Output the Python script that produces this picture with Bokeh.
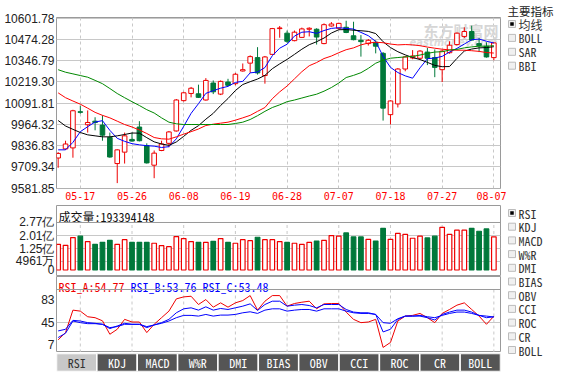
from bokeh.plotting import figure
from bokeh.layouts import row, column
from bokeh.models import Range1d, FixedTicker, Span, Label, ColumnDataSource, FactorRange
from bokeh.embed import file_html
from bokeh.resources import INLINE
from bokeh.core.properties import value

# ---------------- data ----------------
title_text = "深证成指[399001] 2017-08-07 15:26"
dates = ["05-12", "05-15", "05-16", "05-17", "05-18", "05-19", "05-22", "05-23", "05-24", "05-25",
         "05-26", "05-31", "06-01", "06-02", "06-05", "06-06", "06-07", "06-08", "06-09", "06-12",
         "06-13", "06-14", "06-15", "06-16", "06-19", "06-20", "06-21", "06-22", "06-23", "06-26",
         "06-27", "06-28", "06-29", "06-30", "07-03", "07-04", "07-05", "07-06", "07-07", "07-10",
         "07-11", "07-12", "07-13", "07-14", "07-17", "07-18", "07-19", "07-20", "07-21", "07-24",
         "07-25", "07-26", "07-27", "07-28", "07-31", "08-01", "08-02", "08-03", "08-04", "08-07"]
opens = [9761.9, 9816.7, 9822.6, 10039.8, 9961.5, 9983.0, 9959.6, 9885.2, 9728.6, 9797.1,
         9873.4, 9947.8, 9836.3, 9718.8, 9806.9, 9850.0, 9924.3, 10106.3, 10149.4, 10147.4,
         10110.2, 10212.0, 10145.5, 10217.9, 10208.1, 10284.4, 10331.4, 10364.6, 10257.0, 10384.2,
         10538.8, 10511.4, 10466.4, 10486.0, 10534.9, 10534.9, 10448.8, 10554.4, 10540.8, 10546.6,
         10495.8, 10468.4, 10448.8, 10456.6, 10390.1, 10022.2, 10086.7, 10296.2, 10362.7, 10360.7,
         10397.9, 10364.6, 10292.2, 10394.0, 10442.9, 10491.8, 10521.2, 10448.8, 10433.1, 10364.6]
highs = [9797.1, 9865.6, 10051.5, 10077.0, 10047.6, 10006.5, 10018.3, 9914.5, 9814.7, 9914.5,
         9914.5, 9983.0, 9850.0, 9806.9, 9865.6, 9924.3, 10116.1, 10159.2, 10188.5, 10202.2,
         10241.4, 10227.6, 10227.6, 10237.4, 10272.7, 10329.4, 10378.3, 10427.3, 10374.4, 10542.7,
         10554.4, 10527.1, 10527.1, 10544.7, 10546.6, 10540.8, 10570.1, 10578.0, 10574.0, 10585.8,
         10579.9, 10499.7, 10476.2, 10468.4, 10398.0, 10108.3, 10302.0, 10374.4, 10409.7, 10409.7,
         10423.4, 10413.6, 10409.7, 10462.5, 10515.3, 10546.6, 10556.3, 10482.1, 10456.6, 10456.6]
lows = [9703.2, 9810.8, 9763.8, 10028.0, 9914.5, 9928.2, 9865.6, 9763.8, 9611.2, 9728.6,
        9859.7, 9861.7, 9728.6, 9640.6, 9803.0, 9826.5, 9920.4, 10100.4, 10125.9, 10122.0,
        10106.3, 10145.5, 10139.6, 10194.4, 10198.3, 10280.5, 10272.7, 10262.9, 10208.1, 10380.3,
        10484.0, 10452.7, 10462.5, 10482.1, 10491.8, 10443.0, 10444.9, 10550.6, 10534.9, 10511.4,
        10468.4, 10370.5, 10437.1, 10390.1, 9986.5, 9963.5, 10065.2, 10282.5, 10354.9, 10354.9,
        10319.6, 10247.2, 10217.9, 10388.2, 10437.1, 10482.1, 10466.4, 10397.9, 10364.6, 10349.0]
closes = [9789.3, 9846.0, 10045.6, 10035.9, 9975.2, 9975.0, 9898.9, 9767.8, 9810.8, 9895.0,
          9863.7, 9865.6, 9732.5, 9791.2, 9846.0, 9918.4, 10110.2, 10153.3, 10180.7, 10125.9,
          10227.6, 10159.2, 10221.8, 10198.3, 10264.8, 10292.2, 10370.5, 10272.7, 10368.6, 10538.8,
          10542.7, 10462.5, 10517.3, 10536.9, 10540.8, 10488.0, 10562.3, 10566.2, 10570.1, 10515.3,
          10472.3, 10460.5, 10468.4, 10433.1, 10061.3, 10104.4, 10296.2, 10368.6, 10374.4, 10403.8,
          10360.7, 10305.9, 10403.8, 10439.0, 10511.4, 10521.2, 10470.3, 10437.1, 10368.6, 10452.7]
ma5 = [9811, 9811, 9856, 9920, 9950, 9978, 9986, 9928, 9880, 9862,
       9848, 9841, 9836, 9833, 9825, 9830, 9877, 9952, 10030, 10088,
       10150, 10166, 10181, 10192, 10216, 10222, 10273, 10278, 10305, 10376,
       10421, 10445, 10494, 10517, 10520, 10510, 10527, 10540, 10544, 10540,
       10536, 10516, 10496, 10462, 10372, 10306, 10275, 10255, 10241, 10303,
       10358, 10362, 10372, 10398, 10420, 10446, 10472, 10476, 10463, 10452]
ma10 = [9987, 9954, 9934, 9915, 9901, 9895, 9889, 9889, 9895, 9903,
        9912, 9911, 9884, 9859, 9846, 9838, 9858, 9892, 9928, 9956,
        9995, 10030, 10077, 10119, 10167, 10203, 10220, 10236, 10258, 10298,
        10327, 10354, 10384, 10415, 10442, 10460, 10482, 10512, 10532, 10533,
        10529, 10526, 10522, 10509, 10460, 10425, 10400, 10381, 10365, 10353,
        10336, 10318, 10310, 10311, 10360, 10404, 10416, 10423, 10425, 10430]
ma20 = [10153, 10124, 10104, 10085, 10061, 10036, 10018, 10003, 9983, 9963,
        9948, 9930, 9909, 9885, 9877, 9875, 9889, 9905, 9920, 9936,
        9957, 9965, 9971, 9977, 9989, 10003, 10018, 10042, 10065, 10118,
        10159, 10194, 10237, 10280, 10316, 10335, 10359, 10374, 10394, 10412,
        10423, 10441, 10452, 10457, 10454, 10446, 10441, 10443, 10441, 10436,
        10428, 10421, 10415, 10411, 10409, 10409, 10406, 10402, 10395, 10392]
ma30 = [10292, 10277, 10267, 10257, 10247, 10228, 10208, 10179, 10149, 10124,
        10100, 10077, 10052, 10032, 10003, 9977, 9967, 9963, 9963, 9963,
        9963, 9963, 9963, 9963, 9969, 9977, 9993, 10016, 10042, 10065,
        10081, 10100, 10110, 10122, 10134, 10145, 10163, 10185, 10212, 10245,
        10258, 10274, 10300, 10331, 10349, 10361, 10365, 10369, 10372, 10380,
        10390, 10398, 10400, 10410, 10414, 10423, 10429, 10433, 10433, 10436]
volumes = [150e6, 144e6, 189e6, 197e6, 165.5e6, 150e6, 161.6e6, 173e6, 150e6, 177e6,
           161.6e6, 161.6e6, 161.6e6, 156e6, 142e6, 136e6, 195e6, 183e6, 165.5e6, 161.6e6,
           161.6e6, 167.4e6, 183e6, 161.6e6, 156e6, 177e6, 171e6, 191e6, 177e6, 177e6,
           165.5e6, 161.6e6, 156e6, 150e6, 161.6e6, 169e6, 173e6, 200.5e6, 197e6, 216e6,
           193e6, 193e6, 179e6, 169e6, 243e6, 179e6, 214e6, 208e6, 185e6, 197e6,
           187e6, 197e6, 249e6, 208e6, 232e6, 232e6, 243e6, 226e6, 239.5e6, 193394148]
rsi_a = [14.8, 27.1, 65.1, 63.4, 53.9, 52.3, 47.0, 24.3, 32.7, 49.5,
         45.0, 45.0, 27.1, 41.1, 52.3, 63.4, 84.1, 87.5, 88.6, 74.6,
         83.0, 70.1, 77.4, 70.1, 77.4, 81.3, 89.7, 65.1, 80.2, 89.7,
         89.7, 71.8, 76.3, 78.5, 80.2, 67.3, 75.7, 76.3, 76.3, 61.8,
         49.5, 43.9, 45.0, 49.5, 2.0, 10.4, 46.7, 55.0, 56.2, 59.5,
         52.3, 43.9, 59.5, 66.2, 73.5, 77.4, 66.2, 55.0, 41.1, 54.77]
rsi_b = [29.9, 32.7, 47.8, 46.7, 43.9, 42.8, 41.1, 33.8, 38.3, 42.8,
         41.1, 41.1, 35.5, 40.0, 43.9, 49.5, 60.6, 67.3, 69.0, 65.1,
         70.7, 65.1, 67.9, 66.2, 69.0, 71.8, 75.7, 64.6, 74.6, 80.2,
         80.2, 71.8, 73.5, 74.6, 72.9, 69.0, 74.6, 74.6, 74.6, 66.2,
         61.8, 60.6, 60.6, 57.8, 28.2, 32.7, 49.5, 55.0, 55.0, 55.0,
         52.3, 48.4, 57.8, 61.8, 65.1, 65.1, 61.8, 56.2, 52.3, 53.76]
rsi_c = [18.7, 26.0, 46.7, 43.9, 42.2, 42.2, 41.1, 35.5, 37.2, 41.1,
         41.1, 41.1, 37.2, 40.0, 42.8, 46.7, 52.3, 56.2, 56.2, 55.0,
         57.8, 55.0, 56.7, 56.7, 57.8, 60.6, 62.3, 59.5, 65.1, 67.3,
         67.3, 63.4, 65.1, 66.2, 66.2, 63.4, 67.3, 67.3, 67.3, 63.4,
         60.6, 59.5, 59.5, 57.8, 43.9, 42.8, 50.6, 55.0, 55.0, 56.2,
         53.9, 52.3, 56.2, 59.5, 61.8, 61.8, 59.5, 56.2, 55.0, 53.48]
price_ticks = [9581.85, 9709.34, 9836.83, 9964.32, 10091.81, 10219.30, 10346.79, 10474.28, 10601.78]
price_tick_labels = ["9581.85", "9709.34", "9836.83", "9964.32", "10091.81", "10219.30",
                     "10346.79", "10474.28", "10601.78"]
date_tick_labels = ["05-17", "05-26", "06-08", "06-19", "06-28", "07-07", "07-18", "07-27", "08-07"]
vol_ticks = [0, 49.61e6, 125e6, 201e6, 277e6]
vol_tick_labels = ["0", "4961万", "1.25亿", "2.01亿", "2.77亿"]
rsi_ticks = [7, 45, 83]
rsi_names = ["RSI_A", "RSI_B", "RSI_C"]
ma_names = ["5PMA", "10PMA", "20PMA", "30PMA"]
main_menu = ["均线", "BOLL", "SAR", "BBI"]
sub_menu = ["RSI", "KDJ", "MACD", "W%R", "DMI", "BIAS", "OBV", "CCI", "ROC", "CR", "BOLL"]
tabs = ["RSI", "KDJ", "MACD", "W%R", "DMI", "BIAS", "OBV", "CCI", "ROC", "CR", "BOLL"]

# ---------------- style ----------------
MONO = "Noto Sans Mono CJK SC"
SANS = "Liberation Sans"
RED = "#ee0000"
GREEN = "#00783a"
GRID = "#c8c8c8"
FRAME = "#9a9a9a"
MA_COLORS = ["#0000ff", "#000000", "#ff0000", "#008800"]

n = len(dates)
idx = list(range(n))
up = [c >= o for o, c in zip(opens, closes)]
src = ColumnDataSource(dict(
    i=idx, high=highs, low=lows,
    top=[max(o, c) for o, c in zip(opens, closes)],
    bottom=[min(o, c) for o, c in zip(opens, closes)],
    color=[RED if u else GREEN for u in up],
    fill=["white" if u else GREEN for u in up],
    vol=volumes,
))
date_ticks = [dates.index(d) for d in date_tick_labels]
xr = Range1d(-0.225, 59.9)
LEFT_W = 506          # left column (frames 54..500)
SIDE_W = 49           # side menu (506..555)


def panel(h, yr, top=0, bottom=0, xaxis=None):
    f = figure(width=LEFT_W, height=h, x_range=xr, y_range=yr, output_backend="svg",
               toolbar_location=None, x_axis_location=xaxis,
               min_border_left=54, min_border_right=6, min_border_top=top, min_border_bottom=bottom,
               outline_line_color=FRAME, outline_line_width=1,
               background_fill_color="white", border_fill_color="white")
    for ax in f.axis:
        ax.axis_line_color = None
        ax.major_tick_line_color = None
        ax.minor_tick_line_color = None
        ax.major_tick_out = 0
        ax.major_tick_in = 0
        ax.minor_tick_out = 0
        ax.minor_tick_in = 0
    f.yaxis.major_label_standoff = 2
    f.yaxis.major_label_text_font = SANS
    f.yaxis.major_label_text_font_size = "12px"
    f.yaxis.major_label_text_color = "#222222"
    f.ygrid.grid_line_color = GRID
    f.xgrid.visible = False
    return f


# ---------------- main price panel ----------------
p = panel(205, Range1d(9578.85, 10605.4), top=17, bottom=17, xaxis="below")
p.yaxis.ticker = FixedTicker(ticks=price_ticks)
p.yaxis.major_label_overrides = dict(zip(price_ticks, price_tick_labels))
p.ygrid.ticker = FixedTicker(ticks=price_ticks)
p.xaxis.ticker = FixedTicker(ticks=date_ticks)
p.xaxis.major_label_overrides = dict(zip(date_ticks, date_tick_labels))
p.xaxis.major_label_standoff = 3
p.xaxis.major_label_text_color = "#ff0000"
p.xaxis.major_label_text_font = "DejaVu Sans Mono"
p.xaxis.major_label_text_font_size = "10px"
p.xgrid.visible = True
p.xgrid.ticker = FixedTicker(ticks=date_ticks)
p.xgrid.grid_line_color = GRID
p.xgrid.grid_line_dash = "3 3"

# watermark
p.text(x=[xr.end], y=[p.y_range.end], text=["东方财富网"], text_align="right", text_baseline="top",
       x_offset=-2, y_offset=2, text_color="#d6d6d6", text_font=value("Noto Sans CJK SC"),
       text_font_size="15px", text_font_style="bold")
p.text(x=[xr.end], y=[p.y_range.end], text=["eastmoney.com"], text_align="right", text_baseline="top",
       x_offset=-3, y_offset=19, text_color="#dadada", text_font=value("DejaVu Sans"),
       text_font_size="10px", text_font_style="bold italic")

p.segment(x0="i", y0="low", x1="i", y1="high", line_color="color", line_width=1, source=src)
p.vbar(x="i", top="top", bottom="bottom", width=0.62, fill_color="fill", line_color="color",
       line_width=1, source=src)
for ma, col in zip([ma5, ma10, ma20, ma30], MA_COLORS):
    p.line(idx, ma, line_color=col, line_width=1)

# header (title + MA legend) above the frame
p.add_layout(Label(x=xr.start, y=p.y_range.end, x_offset=2, y_offset=9, text=title_text,
                   text_baseline="middle", text_font=MONO, text_font_size="12px", text_color="#111111"))
legend_text_off = [221, 253, 298, 341]
legend_mark_off = [247, 289, 332, 376]
for name, col, tx, mx in zip(ma_names, MA_COLORS, legend_text_off, legend_mark_off):
    p.add_layout(Label(x=xr.start, y=p.y_range.end, x_offset=tx, y_offset=9, text=name,
                       text_baseline="middle", text_font=MONO, text_font_size="12px",
                       text_color="#111111"))
    p.add_layout(Label(x=xr.start, y=p.y_range.end, x_offset=mx, y_offset=8, text="▬",
                       text_baseline="middle", text_font="DejaVu Sans", text_font_size="7px",
                       text_color=col))

# ---------------- volume panel ----------------
pv = panel(71, Range1d(-37.9e6, 376.1e6))
pv.yaxis.ticker = FixedTicker(ticks=vol_ticks)
pv.yaxis.major_label_overrides = dict(zip(vol_ticks, vol_tick_labels))
pv.ygrid.ticker = FixedTicker(ticks=vol_ticks[1:-1])
pv.segment(x0=date_ticks, y0=[0] * len(date_ticks), x1=date_ticks, y1=[vol_ticks[-1]] * len(date_ticks),
           line_color=GRID, line_dash="3 3")
pv.add_layout(Span(location=vol_ticks[-1], dimension="width", line_color=FRAME, line_width=1))
pv.vbar(x="i", top="vol", bottom=0, width=0.62, fill_color="fill", line_color="color",
        line_width=1.2, source=src)
pv.text(x=[xr.start], y=[pv.y_range.end], text=["成交量:%d" % volumes[-1]], x_offset=2, y_offset=2,
        text_baseline="top", text_font=value(MONO), text_font_size="12px", text_color="#111111")

# ---------------- RSI panel ----------------
pr = panel(76, Range1d(-6.6, 122.0))
pr.yaxis.ticker = FixedTicker(ticks=rsi_ticks)
pr.ygrid.ticker = FixedTicker(ticks=[45])
pr.segment(x0=date_ticks, y0=[pr.y_range.start] * len(date_ticks), x1=date_ticks,
           y1=[100] * len(date_ticks), line_color=GRID, line_dash="3 3")
pr.add_layout(Span(location=100, dimension="width", line_color=FRAME, line_width=1))
rsi_colors = [RED, "#0000ff", "#0000ff"]
for series, col in zip([rsi_a, rsi_b, rsi_c], rsi_colors):
    pr.line(idx, series, line_color=col, line_width=1)
for k, (name, series, col) in enumerate(zip(rsi_names, [rsi_a, rsi_b, rsi_c], rsi_colors)):
    pr.text(x=[xr.start], y=[pr.y_range.end], text=["%s:%.2f" % (name, series[-1])],
            x_offset=2 + 72 * k, y_offset=1, text_baseline="top", text_font=value(MONO),
            text_font_size="12px", text_color=col)

# ---------------- tab bar ----------------
pt = figure(width=LEFT_W, height=20, x_range=FactorRange(*tabs), y_range=Range1d(0, 1),
            output_backend="svg", toolbar_location=None, x_axis_location=None, y_axis_location=None,
            min_border_left=56, min_border_right=0, min_border_top=1, min_border_bottom=1,
            outline_line_color=None)
pt.grid.visible = False
active = [t == "RSI" for t in tabs]
pt.vbar(x=tabs, top=1, bottom=0, width=1, fill_color=["#c8c8c8" if a else "#555555" for a in active],
        line_color="white", line_width=1.5)
pt.text(x=tabs, y=[0.5] * len(tabs), text=tabs, text_align="center", text_baseline="middle",
        text_font=value(MONO), text_font_size="12px",
        text_color=["#333333" if a else "#ffffff" for a in active])

# ---------------- side menu ----------------
SIDE_X0 = LEFT_W
side = figure(width=SIDE_W, height=372, x_range=Range1d(SIDE_X0, SIDE_X0 + SIDE_W), y_range=Range1d(372, 0),
              output_backend="svg", toolbar_location=None, x_axis_location=None, y_axis_location=None,
              min_border_left=0, min_border_right=0, min_border_top=0, min_border_bottom=0,
              outline_line_color=None)
side.grid.visible = False
side.text(x=[SIDE_X0 + 1], y=[10], text=["主要指标"], text_baseline="middle", text_font=value(MONO),
          text_font_size="11.5px", text_color="#222222")
top_y = [23.5 + 13.9 * k for k in range(len(main_menu))]
bot_y = [212.5 + 13.7 * k for k in range(len(sub_menu))]
all_y = top_y + bot_y
all_items = main_menu + sub_menu
side.rect(x=[SIDE_X0 + 5.5] * len(all_y), y=all_y, width=7, height=7, fill_color="#f0f0f0", line_color="#bcbcbc")
side.rect(x=[SIDE_X0 + 5.5] * 2, y=[top_y[0], bot_y[0]], width=3.5, height=3.5, fill_color="black", line_color=None)
side.text(x=[SIDE_X0 + 12] * len(all_y), y=all_y, text=all_items, text_baseline="middle",
          text_font=value(MONO), text_font_size="12px", text_color="#333333")

layout = row(column(p, pv, pr, pt), side)
open("out.html", "w").write(file_html(layout, INLINE))
